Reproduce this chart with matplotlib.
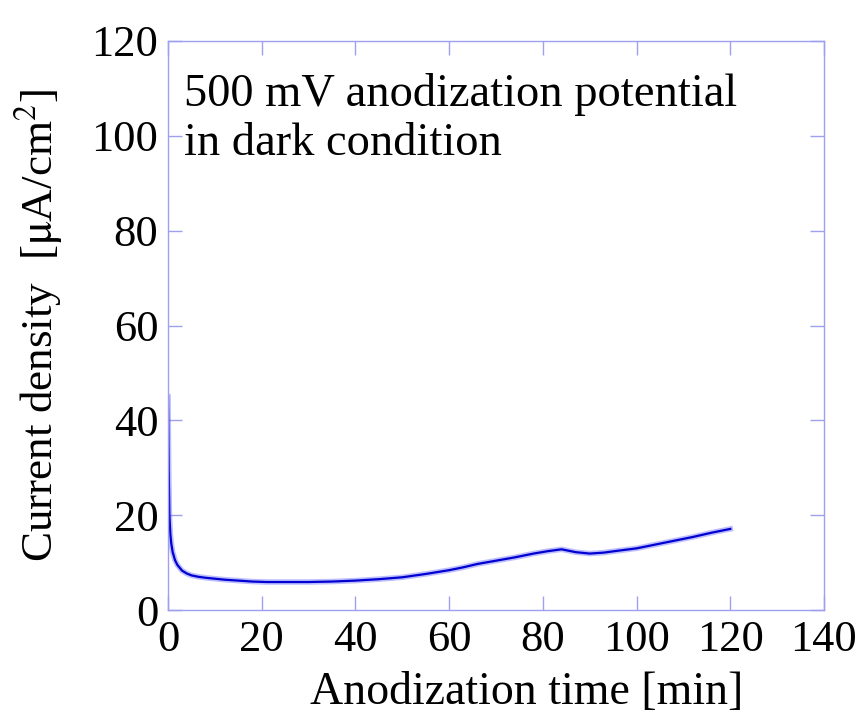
import matplotlib

matplotlib.use("Agg")
import matplotlib.pyplot as plt

# readings taken off the reference curve
time_min = [0, 0.15, 0.3, 0.5, 0.7, 1.0, 1.5, 2.0, 3.0, 4.0, 5.0, 6.5, 8, 10, 12, 15,
            18, 21, 25, 30, 35, 40, 45, 50, 55, 60, 63, 66, 70, 74, 78, 81,
            84, 87, 90, 93, 96, 100, 104, 108, 112, 116, 120]
current = [45, 30, 20, 16, 14, 12.2, 10.5, 9.5, 8.3, 7.7, 7.3, 7.0, 6.8, 6.6, 6.4, 6.2,
           6.0, 5.9, 5.9, 5.9, 6.0, 6.2, 6.5, 6.9, 7.6, 8.4, 9.0, 9.7, 10.4, 11.1, 11.9, 12.4,
           12.8, 12.2, 11.9, 12.1, 12.5, 13.0, 13.8, 14.6, 15.4, 16.3, 17.1]

xticks = [0, 20, 40, 60, 80, 100, 120, 140]
yticks = [0, 20, 40, 60, 80, 100, 120]

plt.rcParams["font.family"] = ["Liberation Serif", "DejaVu Serif"]
plt.rcParams["mathtext.fontset"] = "stix"

axis_col = "#9f9ff0"

fig = plt.figure(figsize=(8.68, 7.13), dpi=100)
ax = fig.add_axes([168 / 868, 1 - 610 / 713, 656 / 868, 569 / 713])

# light band underneath to mimic the measurement noise
ax.plot(time_min, current, color="#6f6fff", lw=4.0, alpha=0.45, solid_joinstyle="round")
ax.plot(time_min, current, color="#0000d0", lw=1.6)

ax.set_xlim(0, 140)
ax.set_ylim(0, 120)
ax.set_xticks(xticks)
ax.set_yticks(yticks)
ax.tick_params(direction="in", length=10, width=1, color=axis_col,
               top=True, right=True, labelsize=32, pad=7)
for s in ax.spines.values():
    s.set_color(axis_col)
    s.set_linewidth(1)

ax.set_xlabel("Anodization time [min]", fontsize=33)
ax.xaxis.set_label_coords(0.547, -0.108)
ax.set_ylabel(r"Current density  [$\mathrm{\mu}$A/cm$^2$]", fontsize=32.5)
ax.yaxis.set_label_coords(-0.157, 0.5)

ax.text(0.025, 0.944, "500 mV anodization potential\nin dark condition",
        transform=ax.transAxes, fontsize=33.5, va="top", ha="left", linespacing=1.2)

plt.savefig("out.png", dpi=100)
plt.close()
